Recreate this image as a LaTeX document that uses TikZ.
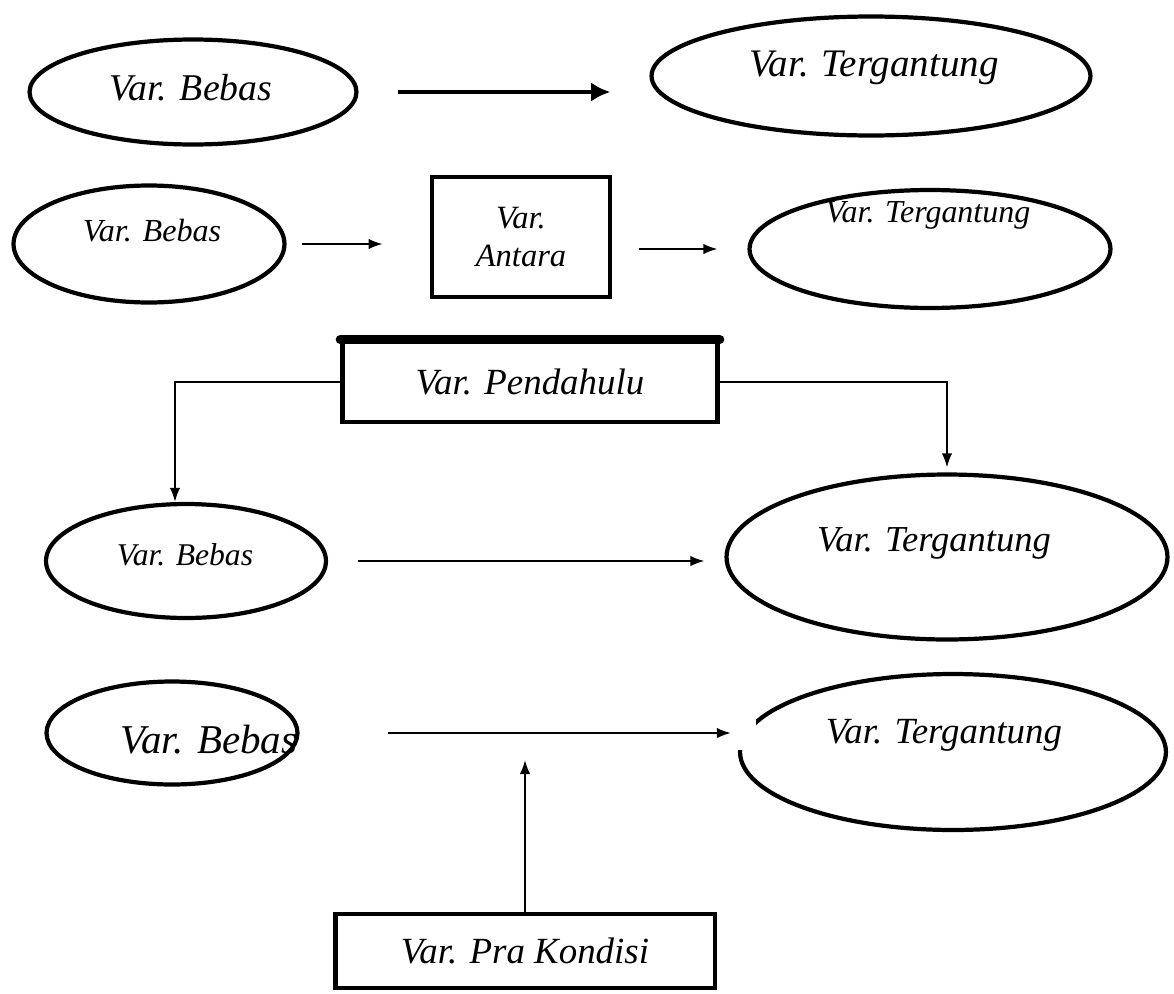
\documentclass[tikz,border=0pt]{standalone}
\usepackage{fontspec}
\setmainfont{Liberation Serif}
\usepackage{tikz}
\usetikzlibrary{shapes.geometric,arrows.meta}

\tikzset{
    ell/.style={ellipse, draw, line width=2.4pt, inner sep=0pt},
    box/.style={rectangle, draw, line width=2.8pt, line cap=round, inner sep=0pt, align=center},
    txt/.style={font=\itshape\fontsize{#1}{#1}\selectfont},
    arr/.style={line width=1.1pt, -{Latex[length=8pt,width=6pt]}},
    bigarr/.style={line width=2.8pt, -{Latex[length=11pt,width=11pt]}}
}

\begin{document}
\begin{tikzpicture}[x=0.02cm, y=-0.02cm]
            \useasboundingbox (0,0) rectangle (1174,994);
            % baris 1
            \node[ell, minimum width=6.54cm, minimum height=2.1cm] (bebas1) at (193,92) {};
            \node[txt=21.5] (tbebas1) at (191,88) {Var. Bebas};
            \node[ell, minimum width=8.78cm, minimum height=2.38cm] (terg1) at (871,76) {};
            \node[txt=22.2] (tterg1) at (874,68) {Var. Tergantung};
            \draw[bigarr, shorten <=0.78cm, shorten >=0.78cm] (bebas1.east) -- (bebas1.east -| terg1.west);

            % baris 2
            \node[ell, minimum width=5.42cm, minimum height=2.34cm] (bebas2) at (149,244) {};
            \node[txt=18.3] (tbebas2) at (152,231) {Var. Bebas};
            \node[box, minimum width=3.56cm, minimum height=2.4cm, txt=18.5] (antara) at (521,237) {Var.\\[3pt]Antara};
            \node[ell, minimum width=7.22cm, minimum height=2.36cm] (terg2) at (930,249) {};
            \node[txt=18.2] (tterg2) at (928,215) {Var. Tergantung};
            \draw[arr, shorten <=0.3cm, shorten >=0.94cm] (bebas2.east) -- (bebas2.east -| antara.west);
            \draw[arr, shorten <=0.54cm, shorten >=0.6cm] (antara.east |- terg2.west) -- (terg2.west);

            % baris 3
            \node[box, minimum width=7.5cm, minimum height=1.6cm, txt=21] (pendahulu) at (530,382) {Var. Pendahulu};
            \draw[line width=5pt, line cap=round] (pendahulu.north west) -- (pendahulu.north east);
            \node[ell, minimum width=5.6cm, minimum height=2.28cm] (bebas3) at (186,561) {};
            \node[txt=18] (tbebas3) at (185,555) {Var. Bebas};
            \node[ell, minimum width=8.82cm, minimum height=3.3cm] (terg3) at (947,557) {};
            \node[txt=20.8] (tterg3) at (934,543) {Var. Tergantung};
            \draw[arr] (pendahulu.west) -| ([xshift=-0.22cm]bebas3.north);
            \draw[arr, shorten >=0.1cm] (pendahulu.east) -| (terg3.north);
            \draw[arr, shorten <=0.6cm, shorten >=0.4cm] (bebas3.east) -- (bebas3.east -| terg3.west);

            % baris 4
            \node[ell, minimum width=5.02cm, minimum height=2.06cm] (bebas4) at (172,733) {};
            \node[txt=23.3] (tbebas4) at (209,740) {Var. Bebas};
            \node[ell, minimum width=8.52cm, minimum height=3.12cm] (terg4) at (953,752) {};
            \fill[white] (733,714) rectangle (756,750);
            \node[txt=21] (tterg4) at (944,735) {Var. Tergantung};
            \node[box, minimum width=7.6cm, minimum height=1.48cm, txt=21] (pra) at (525,951) {Var. Pra Kondisi};
            \draw[arr, shorten <=1.76cm, shorten >=0.14cm] (bebas4.east) -- (bebas4.east -| terg4.west);
            \draw[arr, shorten >=0.54cm] (pra.north) -- (pra.north |- bebas4.east);
        \end{tikzpicture}
\end{document}
